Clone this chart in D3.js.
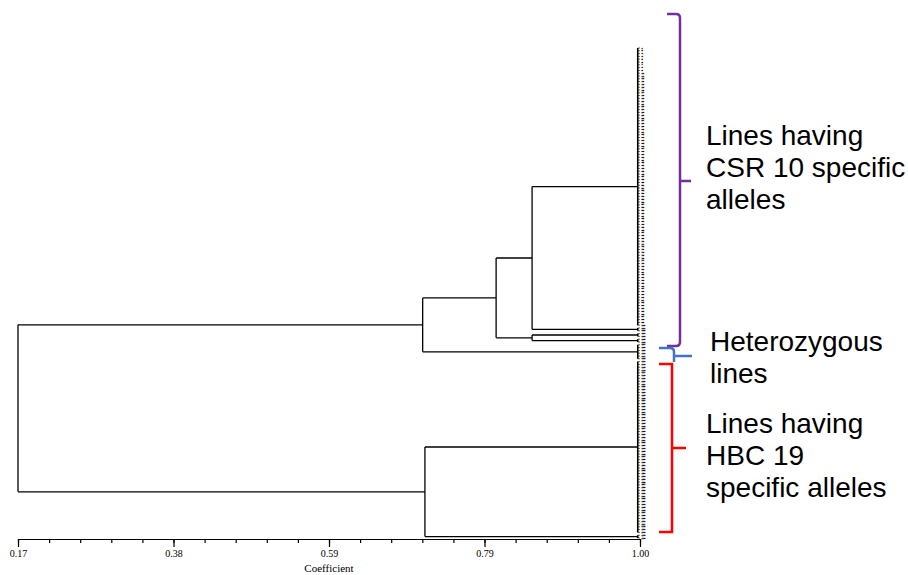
<!DOCTYPE html>
<html>
<head>
<meta charset="UTF-8">
<script src="https://d3js.org/d3.v7.min.js"></script>
<style>
  body { margin: 0; background: #fff; }
  svg { display: block; }
</style>
</head>
<body>
<svg id="svg" width="908" height="575"></svg>
<script>
// leaf groups (lines that join at ~1.00)
const groupNames = ["A1", "A2", "A3", "A4", "HET", "B1", "B2"];
const groupSizes = [100, 2, 2, 2, 6, 62, 2];
const groupCoef  = [0.997, 0.997, 0.997, 0.997, 0.997, 0.997, 0.997];

// higher level merges: left child, right child, similarity coefficient
const mergeNames = ["n1", "n2", "n3", "n4", "n5", "root"];
const mergeLeft  = ["A1", "A3", "n1", "n3", "B1", "n4"];
const mergeRight = ["A2", "A4", "n2", "HET", "B2", "n5"];
const mergeCoef  = [0.856, 0.856, 0.808, 0.710, 0.713, 0.17];

// axis
const tickValues = [0.17, 0.3775, 0.585, 0.7925, 1.00];
const tickLabels = ["0.17", "0.38", "0.59", "0.79", "1.00"];

const svg = d3.select("#svg");
const x = d3.scaleLinear().domain([0.17, 1.00]).range([18, 640]);

// build the tree
const nodes = {};
let leafNo = 0;
groupNames.forEach((g, i) => {
  nodes[g] = {
    name: g, coef: groupCoef[i],
    children: d3.range(groupSizes[i]).map(() => ({ name: String(++leafNo), coef: 1.0 }))
  };
});
mergeNames.forEach((m, i) => {
  nodes[m] = { name: m, coef: mergeCoef[i], children: [nodes[mergeLeft[i]], nodes[mergeRight[i]]] };
});

const root = d3.hierarchy(nodes.root);
const leaves = root.leaves();
const y = d3.scaleLinear().domain([0, leaves.length - 1]).range([48, 538]);
leaves.forEach((d, i) => d.y = y(i));
root.eachAfter(d => {
  if (d.children) d.y = (d.children[0].y + d.children[d.children.length - 1].y) / 2;
});

// dendrogram lines
const lines = svg.append("g").attr("stroke", "#000").attr("stroke-width", 1.3).attr("fill", "none");
root.descendants().filter(d => d.children).forEach(d => {
  const xp = x(d.data.coef);
  lines.append("line")
    .attr("x1", xp).attr("x2", xp)
    .attr("y1", d.children[0].y).attr("y2", d.children[d.children.length - 1].y)
    .attr("stroke-width", d.height === 1 ? 1.6 : 1.3);
  d.children.forEach(c => {
    lines.append("line")
      .attr("x1", xp).attr("x2", x(c.data.coef))
      .attr("y1", c.y).attr("y2", c.y)
      .attr("stroke-width", c.children ? 1.3 : 0.6);
  });
});

// leaf labels (tiny, as in the original print)
svg.append("g")
  .attr("font-family", "Liberation Serif, serif")
  .attr("font-size", 2.6)
  .attr("fill", "#000")
  .attr("stroke", "#000")
  .attr("stroke-width", 0.35)
  .selectAll("text")
  .data(leaves)
  .join("text")
  .attr("x", x(1.0) + 1.5)
  .attr("y", d => d.y)
  .attr("dominant-baseline", "middle")
  .text(d => d.data.name);

// axis
const minorTicks = d3.range(21).map(i => 0.17 + i * (0.83 / 20));
svg.append("g")
  .attr("transform", "translate(0,539)")
  .call(d3.axisBottom(x).tickValues(minorTicks).tickSize(4).tickFormat(""))
  .call(g => g.select(".domain").remove())
  .call(g => g.selectAll("line").attr("stroke", "#000").attr("stroke-width", 1.2));

const axis = svg.append("g")
  .attr("transform", "translate(0,539)")
  .call(d3.axisBottom(x).tickValues(tickValues).tickSize(8).tickSizeOuter(0).tickPadding(3)
    .tickFormat((d, i) => tickLabels[i]));
axis.selectAll("line").attr("stroke", "#000").attr("stroke-width", 1.2);
axis.select(".domain").attr("stroke", "#000").attr("stroke-width", 1.2);
axis.selectAll("text").attr("font-family", "Liberation Serif, serif").attr("font-size", 10).attr("fill", "#000");

svg.append("text")
  .attr("x", (x(0.17) + x(1.0)) / 2).attr("y", 572)
  .attr("text-anchor", "middle")
  .attr("font-family", "Liberation Serif, serif")
  .attr("font-size", 11)
  .text("Coefficient");

// brackets
const br = svg.append("g").attr("fill", "none").attr("stroke-width", 2.5);
br.append("path").attr("stroke", "#7030A0")
  .attr("d", "M667,14 H676 Q680,14 680,18 V342 Q680,346 676,346 H667 M680,181 H691");
br.append("path").attr("stroke", "#4472C4")
  .attr("d", "M659,348 H670 Q674,348 674,352 V362 M674,356 H692");
br.append("path").attr("stroke", "#FF0000")
  .attr("d", "M659,364 H672 V532 H659 M672,448 H686");

// annotations
const notes = [
  { x: 706, y: 145, t: "Lines having" },
  { x: 706, y: 177, t: "CSR 10 specific" },
  { x: 706, y: 209, t: "alleles" },
  { x: 710, y: 351, t: "Heterozygous" },
  { x: 710, y: 383, t: "lines" },
  { x: 706, y: 433, t: "Lines having" },
  { x: 706, y: 465, t: "HBC 19" },
  { x: 706, y: 497, t: "specific alleles" }
];
svg.append("g")
  .attr("font-family", "Liberation Sans, Arial, sans-serif")
  .attr("font-size", 28)
  .attr("fill", "#000")
  .selectAll("text")
  .data(notes)
  .join("text")
  .attr("x", d => d.x).attr("y", d => d.y)
  .text(d => d.t);
</script>
</body>
</html>
